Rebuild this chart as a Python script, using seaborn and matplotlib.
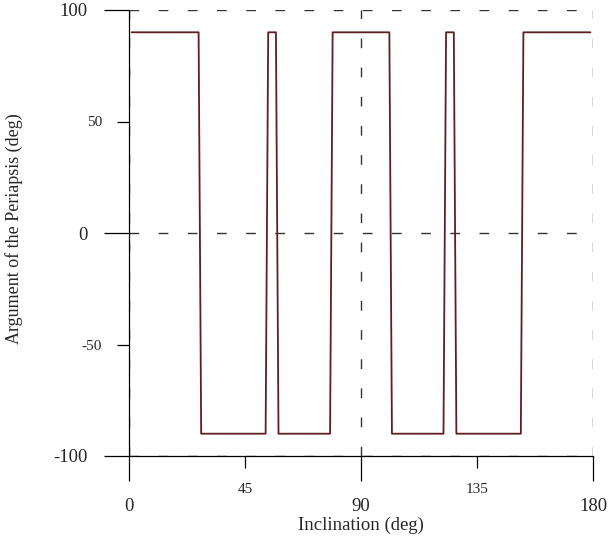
import matplotlib
matplotlib.use("Agg")
import matplotlib.pyplot as plt
import seaborn as sns
import pandas as pd
from matplotlib.ticker import FixedLocator

# data (vertices of the curve)
inclination = [1, 27, 28, 53, 54, 57, 58, 78, 79, 101, 102, 122, 123, 126, 127, 152, 153, 179]
arg_periapsis = [90, 90, -90, -90, 90, 90, -90, -90, 90, 90, -90, -90, 90, 90, -90, -90, 90, 90]

x_major = [0, 90, 180]
x_minor = [45, 135]
y_major = [-100, 0, 100]
y_minor = [-50, 50]

sns.set_theme(style="white")
plt.rcParams['font.family'] = ['Liberation Serif', 'DejaVu Serif']
plt.rcParams['axes.unicode_minus'] = False

df = pd.DataFrame({"Inclination": inclination, "Arg": arg_periapsis})

fig = plt.figure(figsize=(6.09, 5.41), dpi=100)
ax = fig.add_axes([129/609, 1-456/541, (593-129)/609, (456-10)/541])

# grid at major positions
for xv in x_major:
    ax.axvline(xv, color="#333333", lw=1.0, dashes=(7, 14), zorder=0.5)
for yv in y_major:
    ax.axhline(yv, color="#333333", lw=1.0, dashes=(7, 14), zorder=0.5)

sns.lineplot(data=df, x="Inclination", y="Arg", ax=ax, sort=False, estimator=None,
             color="#5e1f1f", lw=1.3, zorder=3)

ax.set_xlim(0, 180)
ax.set_ylim(-100, 100)
ax.xaxis.set_major_locator(FixedLocator(x_major))
ax.xaxis.set_minor_locator(FixedLocator(x_minor))
ax.yaxis.set_major_locator(FixedLocator(y_major))
ax.yaxis.set_minor_locator(FixedLocator(y_minor))
ax.set_xticklabels([str(v) for v in x_major])
ax.set_xticklabels([str(v) for v in x_minor], minor=True)
ax.set_yticklabels([str(v) for v in y_major])
ax.set_yticklabels([str(v) for v in y_minor], minor=True)

ax.tick_params(axis="both", which="major", direction="out", length=18, width=0.9,
               color="black", labelsize=13.5, pad=12, bottom=True, left=True)
ax.tick_params(axis="both", which="minor", direction="out", length=8.5, width=0.9,
               color="black", labelsize=11, pad=11, bottom=True, left=True)

for s in ["top", "right"]:
    ax.spines[s].set_visible(False)
for s in ["left", "bottom"]:
    ax.spines[s].set_color("black")
    ax.spines[s].set_linewidth(0.9)
    ax.spines[s].set_zorder(2)

ax.set_xlabel("Inclination (deg)", fontsize=13.5)
ax.set_ylabel("Argument of the Periapsis (deg)", fontsize=13)
ax.xaxis.set_label_coords(0.5, -0.137)
ax.yaxis.set_label_coords(-0.228, 0.51)

fig.savefig("out.png", dpi=100)
